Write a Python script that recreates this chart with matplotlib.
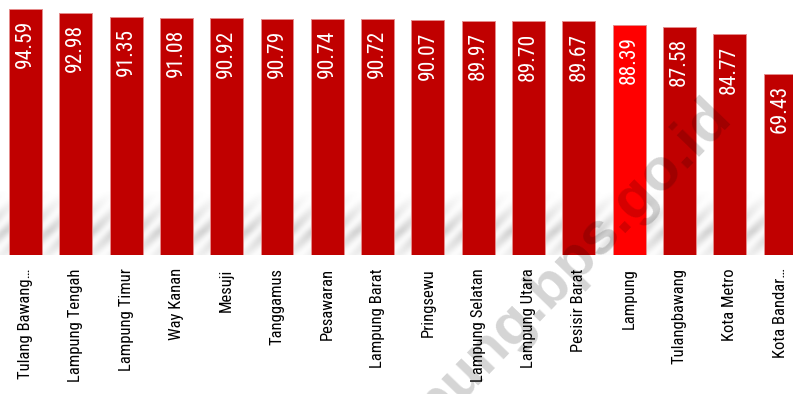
import numpy as np
import matplotlib
matplotlib.use("Agg")
import matplotlib.pyplot as plt
from matplotlib import font_manager

regions = ["Tulang Bawang…", "Lampung Tengah", "Lampung Timur", "Way Kanan", "Mesuji",
           "Tanggamus", "Pesawaran", "Lampung Barat", "Pringsewu", "Lampung Selatan",
           "Lampung Utara", "Pesisir Barat", "Lampung", "Tulangbawang", "Kota Metro",
           "Kota Bandar…"]
values = [94.59, 92.98, 91.35, 91.08, 90.92, 90.79, 90.74, 90.72, 90.07, 89.97,
          89.70, 89.67, 88.39, 87.58, 84.77, 69.43]
highlight = "Lampung"

available = {f.name for f in font_manager.fontManager.ttflist}


def pick(*names):
    for n in names:
        if n in available:
            return n
    return "DejaVu Sans"


label_font = pick("Liberation Sans Narrow", "DejaVu Sans Condensed", "Roboto Condensed",
                  "Open Sans Condensed", "Liberation Sans")
value_font = pick("Roboto Condensed", "Liberation Sans Narrow", "DejaVu Sans Condensed",
                  "Roboto")
mark_font = pick("Liberation Sans", "Arial", "DejaVu Sans")

W, H = 793, 394
fig = plt.figure(figsize=(W / 100, H / 100), dpi=100)
fig.patch.set_facecolor("white")

# axes geometry in pixels: bar pitch 50.3 px, first bar centre at 25.5 px, baseline at 255 px
pitch = 50.3
x0 = 25.5 - 0.5 * pitch
ax_w = len(values) * pitch
base_y = 255
y_top = 100.0
px_per_unit = 2.604
ax_h = y_top * px_per_unit
ax = fig.add_axes([x0 / W, (H - base_y) / H, ax_w / W, ax_h / H])
ax.set_xlim(-0.5, len(values) - 0.5)
ax.set_ylim(0, y_top)
ax.axis("off")

x = np.arange(len(values))

# soft floor shadow behind the bars
ny, nx = 200, 800
yy = np.linspace(0, 26, ny)[:, None]
xx = np.linspace(-0.5, len(values) - 0.5, nx)[None, :]
profile = np.clip(1 - np.abs(yy - 9) / 16, 0, 1) ** 1.2
stripe = 0.6 + 0.4 * np.cos(2 * np.pi * (xx * pitch - yy * px_per_unit) / 22)
alpha = 0.26 * profile * stripe
shade = np.zeros((ny, nx, 4))
shade[..., :3] = 0.35
shade[..., 3] = alpha
ax.imshow(shade, extent=(-0.5, len(values) - 0.5, 0, 26), origin="lower",
          aspect="auto", zorder=1, interpolation="bilinear")

colors = ["#FF0000" if r == highlight else "#C00000" for r in regions]
ax.bar(x, values, width=0.656, color=colors, edgecolor="#E58C8C", linewidth=0.7, zorder=2)

for xi, v in zip(x, values):
    ax.annotate(f"{v:.2f}", (xi, v), xytext=(0, -8.0), textcoords="offset points",
                rotation=90, ha="center", va="top", color="white",
                fontsize=15.5, family=value_font, zorder=3)

for xi, name in zip(x, regions):
    ax.annotate(name, (xi, 0), xytext=(0, -9.5), textcoords="offset points",
                rotation=90, ha="center", va="top", color="black",
                fontsize=12, family=label_font, annotation_clip=False, zorder=3)

fig.text(538 / W, 1 - 298 / H, "lampung.bps.go.id", rotation=46, ha="center", va="center",
         fontsize=43, fontweight="bold", family=mark_font, color="black", alpha=0.17,
         zorder=10)

fig.savefig("out.png", dpi=100)
